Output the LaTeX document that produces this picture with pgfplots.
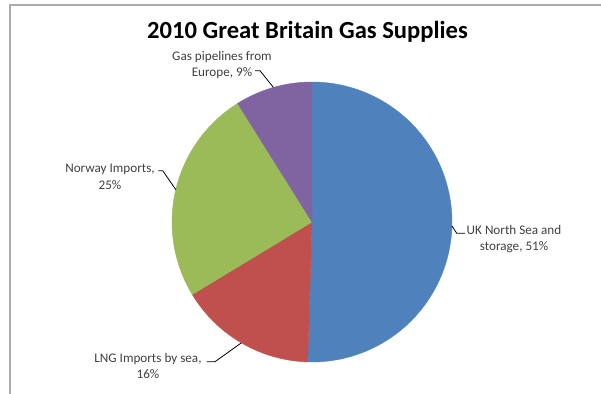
\documentclass[border=0pt]{standalone}
\usepackage{pgfplots}
\pgfplotsset{compat=1.18}
\usepackage{pgfplotstable}
\usepackage{fontspec}
\setmainfont{Carlito}
\definecolor{ukblue}{HTML}{4F81BD}
\definecolor{lngred}{HTML}{C0504D}
\definecolor{norgreen}{HTML}{9BBB59}
\definecolor{pipepurple}{HTML}{8064A2}
\definecolor{labgray}{HTML}{404040}
\pgfplotstableread{
source share
UK 51
LNG 16
Norway 25
Pipelines 9
}\gasdata
\pgfplotstablegetelem{0}{share}\of\gasdata\edef\vA{\pgfplotsretval}
\pgfplotstablegetelem{1}{share}\of\gasdata\edef\vB{\pgfplotsretval}
\pgfplotstablegetelem{2}{share}\of\gasdata\edef\vC{\pgfplotsretval}
\pgfplotstablegetelem{3}{share}\of\gasdata\edef\vD{\pgfplotsretval}
\pgfmathsetmacro\tot{\vA+\vB+\vC+\vD}
\pgfmathsetmacro\aA{90-360*(\vA/\tot)}
\pgfmathsetmacro\aB{\aA-360*(\vB/\tot)}
\pgfmathsetmacro\aC{\aB-360*(\vC/\tot)}
\pgfmathsetmacro\aD{\aC-360*(\vD/\tot)}
\begin{document}%
\begin{tikzpicture}
\path[use as bounding box] (0,0) rectangle (601bp,394bp);
\draw[gray!65, line width=1.4bp] (10bp,0) -- (10bp,389bp) -- (601bp,389bp);
\begin{axis}[
  at={(312bp,172bp)}, anchor=center,
  width=280bp, height=280bp, scale only axis,
  xmin=-1, xmax=1, ymin=-1, ymax=1,
  hide axis, clip=false]
\addplot[fill=ukblue, draw=ukblue, domain=\aA:90, samples=120] ({cos(x)},{sin(x)}) -- (0,0) -- cycle;
\addplot[fill=lngred, draw=lngred, domain=\aB:\aA, samples=60] ({cos(x)},{sin(x)}) -- (0,0) -- cycle;
\addplot[fill=norgreen, draw=norgreen, domain=\aC:\aB, samples=80] ({cos(x)},{sin(x)}) -- (0,0) -- cycle;
\addplot[fill=pipepurple, draw=pipepurple, domain=\aD:\aC, samples=40] ({cos(x)},{sin(x)}) -- (0,0) -- cycle;
\end{axis}
\node[anchor=base, font=\fontsize{24.7}{28}\selectfont\bfseries] at (307.5bp,355bp) {2010 Great Britain Gas Supplies};
\begin{scope}[every node/.style={anchor=base, text=labgray, font=\fontsize{13.2}{16}\selectfont}]
\node at (222bp,333bp) {Gas pipelines from};
\node at (222bp,317bp) {Europe, 9\%};
\node at (110bp,221bp) {Norway Imports,};
\node at (110bp,204bp) {25\%};
\node at (148bp,31.5bp) {LNG Imports by sea,};
\node at (148bp,16bp) {16\%};
\node at (514bp,159bp) {UK North Sea and};
\node at (514bp,143bp) {storage, 51\%};
\end{scope}
\begin{scope}[line width=0.8bp, black]
\draw (255bp,323.3bp) -- (260bp,323.3bp) -- (273.4bp,306.6bp);
\draw (158.3bp,223.3bp) -- (162.7bp,223.3bp) -- (175.8bp,204.4bp);
\draw (206.7bp,32.3bp) -- (215bp,32.3bp) -- (241.3bp,51.1bp);
\draw (452bp,168bp) -- (456.7bp,160.7bp) -- (465bp,160.7bp);
\end{scope}
\end{tikzpicture}%
\end{document}
